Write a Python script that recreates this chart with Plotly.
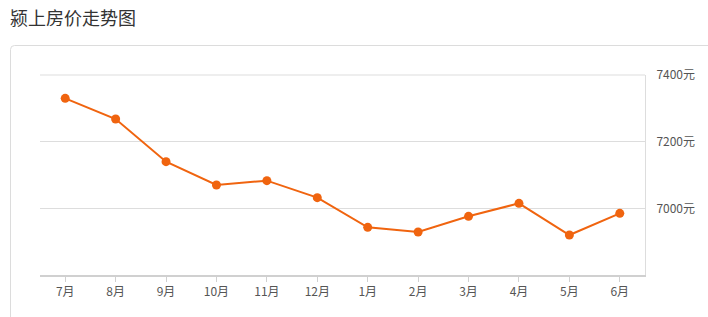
import plotly.graph_objects as go

months = ["7月", "8月", "9月", "10月", "11月", "12月", "1月", "2月", "3月", "4月", "5月", "6月"]
prices = [7330, 7268, 7140, 7070, 7083, 7032, 6943, 6929, 6976, 7015, 6920, 6985]
y_ticks = [7000, 7200, 7400]
y_tick_labels = ["7000元", "7200元", "7400元"]
title_text = "颍上房价走势图"

W, H = 708, 317
L, R, T, B = 40, 645, 75, 275

def px(x):
    return (x - L) / (R - L)

def py(y):
    return (B - y) / (B - T)

fig = go.Figure()
fig.add_trace(go.Scatter(
    x=months, y=prices, mode="lines+markers",
    line=dict(color="#f0640f", width=2),
    marker=dict(color="#f0640f", size=9),
    hoverinfo="skip",
))

# card with rounded top-left corner
x0, y0, x1, y1, r = 10.5, 45.5, 730, 340, 4
path = (f"M {px(x0)},{py(y1)} L {px(x0)},{py(y0 + r)} "
        f"Q {px(x0)},{py(y0)} {px(x0 + r)},{py(y0)} L {px(x1)},{py(y0)}")
fig.add_shape(type="path", xref="paper", yref="paper", path=path,
              line=dict(color="#dcdcdc", width=1), fillcolor="white", layer="below")

# top grid line (at range edge)
fig.add_shape(type="line", xref="paper", yref="paper", x0=0, x1=1, y0=1, y1=1,
              line=dict(color="#dddddd", width=1), layer="below")

fig.add_annotation(text=title_text, xref="paper", yref="paper",
                   x=px(8), y=py(17), xanchor="left", yanchor="middle",
                   showarrow=False, font=dict(size=18, color="#333333",
                                              family="Noto Sans CJK SC"))

fig.update_layout(
    width=W, height=H,
    margin=dict(l=L, r=W - R, t=T, b=H - B),
    paper_bgcolor="white", plot_bgcolor="white",
    showlegend=False,
    font=dict(family="Noto Sans CJK SC", size=12, color="#555555"),
    xaxis=dict(
        type="category", range=[-0.5, 11.5],
        showgrid=False, showline=True, linecolor="#d0d0d0", linewidth=2,
        ticks="outside", ticklen=5, tickcolor="#d0d0d0", tickwidth=1,
        tickfont=dict(size=12, color="#555555"), zeroline=False,
    ),
    yaxis=dict(
        side="right", range=[6800, 7400],
        tickvals=y_ticks, ticktext=y_tick_labels,
        showgrid=True, gridcolor="#dddddd", gridwidth=1,
        showline=True, linecolor="#dddddd", linewidth=1,
        ticks="", ticklabelstandoff=8,
        tickfont=dict(size=12, color="#555555"), zeroline=False,
    ),
)

fig.write_html("out.html")
